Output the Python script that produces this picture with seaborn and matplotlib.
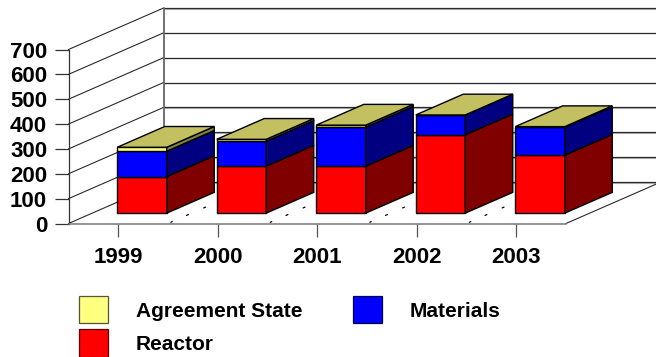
import matplotlib
matplotlib.use("Agg")
import matplotlib.pyplot as plt
from matplotlib.patches import Patch
import numpy as np
import seaborn as sns

years = ["1999", "2000", "2001", "2002", "2003"]
reactor = [147, 189, 189, 315, 233]
materials = [102, 100, 157, 80, 112]
agreement = [16, 8, 8, 0, 3]
y_ticks = [0, 100, 200, 300, 400, 500, 600, 700]

W, H = 656, 357
sns.set_theme(style="white")
plt.rcParams["font.family"] = ["Liberation Sans", "DejaVu Sans"]
plt.rcParams["font.weight"] = "bold"

fig = plt.figure(figsize=(W / 100, H / 100), dpi=100, facecolor="white")
ax = fig.add_axes([68.5 / W, 1 - 223.5 / H, (566 - 68.5) / W, 174 / H])
ax.patch.set_alpha(0)

# Oblique depth of the floor, in data units per unit of depth
DEPTH_X = 95 / 99.5
DEPTH_Y = 41.5 / (174 / 700)
FRONT, BACK = 0.25, 0.75
BAR_W = 0.4975


def oblique(x, v, d):
    return x + DEPTH_X * d, v + DEPTH_Y * d


XMIN, XMAX, YMAX = -0.5, 4.5, 700
GRID = "#2a2a2a"

# Back wall, left wall and floor
for v in y_ticks:
    x0, y0 = oblique(XMIN, v, 0)
    x1, y1 = oblique(XMIN, v, 1)
    x2, _ = oblique(XMAX, v, 1)
    ax.plot([x0, x1], [y0, y1], color=GRID, lw=0.8, clip_on=False, zorder=1)
    ax.plot([x1, x2], [y1 - 2.5, y1 - 2.5], color="#b5b5b5", lw=0.8, clip_on=False, zorder=1)
    ax.plot([x1, x2], [y1, y1], color=GRID, lw=0.9, clip_on=False, zorder=1)
bx, by0 = oblique(XMIN, 0, 1)
_, by1 = oblique(XMIN, YMAX, 1)
ax.plot([bx, bx], [by0, by1], color="#666666", lw=1.3, clip_on=False, zorder=1)
ax.plot(*zip(oblique(XMAX, 0, 0), oblique(XMAX, 0, 1)), color=GRID, lw=0.8, clip_on=False, zorder=1)

# Short floor dashes between the columns
for i in range(4):
    for d0, d1 in [(0.03, 0.045), (0.195, 0.215), (0.375, 0.395)]:
        ax.plot(*zip(oblique(i + 0.5, 0, d0), oblique(i + 0.5, 0, d1)),
                color="black", lw=0.9, clip_on=False, zorder=1)

# Stacked columns: front faces from seaborn, shifted onto the floor
stack = [
    (reactor, "#ff0000", "#800000", "Reactor"),
    (materials, "#0000ff", "#000080", "Materials"),
    (agreement, "#ffff80", "#808040", "Agreement State"),
]
base = np.zeros(len(years))
shift_x, shift_y = oblique(0, 0, FRONT)
for values, front, side, name in stack:
    n_before = len(ax.patches)
    sns.barplot(x=years, y=values, color=front, saturation=1, width=BAR_W, errorbar=None,
                edgecolor="black", linewidth=1.0, zorder=3, clip_on=False, ax=ax)
    for patch, b in zip(ax.patches[n_before:], base):
        patch.set_x(patch.get_x() + shift_x)
        patch.set_y(b + shift_y)
    for i, (v, b) in enumerate(zip(values, base)):
        x_right = i + BAR_W / 2
        pts = [oblique(x_right, b, FRONT), oblique(x_right, b + v, FRONT),
               oblique(x_right, b + v, BACK), oblique(x_right, b, BACK)]
        ax.fill(*zip(*pts), facecolor=side, edgecolor="black", lw=1.0, clip_on=False, zorder=3)
    base = base + np.array(values)

for i, total in enumerate(base):
    xl, xr = i - BAR_W / 2, i + BAR_W / 2
    pts = [oblique(xl, total, FRONT), oblique(xr, total, FRONT),
           oblique(xr, total, BACK), oblique(xl, total, BACK)]
    ax.fill(*zip(*pts), facecolor="#c2c060", edgecolor="black", lw=1.0, clip_on=False, zorder=3)

ax.set_xlim(XMIN, XMAX)
ax.set_ylim(0, YMAX)
ax.set_xlabel("")
ax.set_ylabel("")
ax.set_yticks(y_ticks)
ax.set_xticks(range(len(years)), years)
ax.tick_params(axis="y", length=10.4, width=0.9, color="#333333", pad=5, labelsize=16, labelcolor="black")
ax.tick_params(axis="x", length=9.4, width=0.9, color="#555555", pad=7.5, labelsize=16, labelcolor="black")
ax.tick_params(left=True, bottom=True)
sns.despine(ax=ax)
ax.spines["left"].set_color("#333333")
ax.spines["left"].set_linewidth(0.9)
ax.spines["bottom"].set_color("#777777")
ax.spines["bottom"].set_linewidth(1.1)

handles = [
    Patch(facecolor="#ffff80", edgecolor="#555533", lw=0.9, label="Agreement State"),
    Patch(facecolor="#ff0000", edgecolor="#550000", lw=0.9, label="Reactor"),
    Patch(facecolor="#0000ff", edgecolor="#000055", lw=0.9, label="Materials"),
]
fig.legend(handles=handles, ncols=2, loc="upper left", bbox_to_anchor=(79 / W, 1 - 296 / H),
           frameon=False, fontsize=15, borderpad=0, borderaxespad=0, handlelength=1.39,
           handleheight=1.65, handletextpad=1.35, labelspacing=0.29, columnspacing=2.4,
           labelcolor="black")

fig.savefig("out.png", dpi=100, facecolor="white")
